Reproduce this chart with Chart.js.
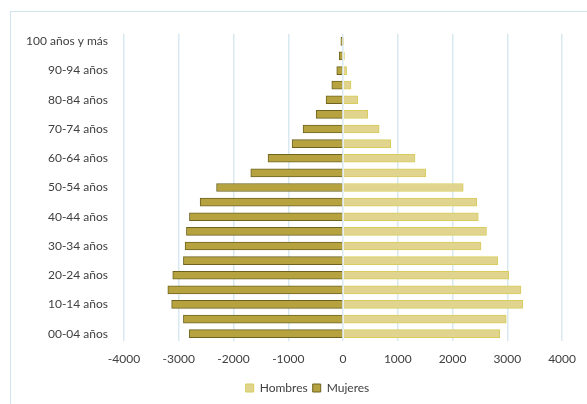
<!DOCTYPE html>
<html>
<head>
<meta charset="utf-8">
<script src="https://cdn.jsdelivr.net/npm/chart.js@4/dist/chart.umd.min.js"></script>
<style>
	body { margin: 0; background: #ffffff; }
	#marco { position: absolute; left: 10px; top: 11px; width: 700px; height: 500px; border-left: 1px solid #cfe4ec; border-top: 1px solid #cfe4ec; }
	#wrap { position: absolute; left: 0; top: 0; width: 587px; height: 404px; }
</style>
</head>
<body>
<div id="marco"></div>
<div id="wrap"><canvas id="piramide"></canvas></div>
<script>
// grupos de edad, de abajo hacia arriba
const edades = [
	"00-04 años", "05-09 años", "10-14 años", "15-19 años", "20-24 años",
	"25-29 años", "30-34 años", "35-39 años", "40-44 años", "45-49 años",
	"50-54 años", "55-59 años", "60-64 años", "65-69 años", "70-74 años",
	"75-79 años", "80-84 años", "85-89 años", "90-94 años", "95-99 años",
	"100 años y más"
];

const hombres = [
	2860, 2980, 3285, 3250, 3025, 2825, 2520, 2620, 2470, 2440,
	2195, 1510, 1315, 870, 660, 450, 270, 145, 65, 25, 12
];

// mujeres en negativo para que salgan a la izquierda
const mujeres = [
	-2810, -2915, -3130, -3200, -3110, -2915, -2885, -2860, -2805, -2610,
	-2310, -1685, -1370, -930, -730, -490, -310, -205, -115, -70, -40
];

const ejeX = [-4000, -3000, -2000, -1000, 0, 1000, 2000, 3000, 4000];

const fuente = { family: "Lato, 'Open Sans', sans-serif", size: 12 };

new Chart(document.getElementById("piramide"), {
	type: "bar",
	data: {
		labels: edades,
		datasets: [
			{
				label: "Hombres",
				data: hombres,
				backgroundColor: "#e0d48e",
				borderColor: "#d8cd5c",
				borderWidth: 1,
				barThickness: 8,
			},
			{
				label: "Mujeres",
				data: mujeres,
				backgroundColor: "#b6a340",
				borderColor: "#6e6420",
				borderWidth: 1,
				barThickness: 8,
			},
		],
	},
	options: {
		indexAxis: "y",
		responsive: true,
		maintainAspectRatio: false,
		animation: false,
		// el padding izquierdo centra la leyenda como en el original
		layout: { padding: { top: 34, right: 22, left: 50, bottom: 0 } },
		scales: {
			x: {
				stacked: true,
				min: ejeX[0],
				max: ejeX[ejeX.length - 1],
				afterBuildTicks: (scale) => {
					scale.ticks = ejeX.map((v) => ({ value: v }));
				},
				grid: { color: "#d9e9f1", lineWidth: 1.5, drawTicks: false },
				border: { display: false },
				ticks: {
					padding: 11,
					color: "#404040",
					font: fuente,
					callback: (v) => String(v),
				},
				afterFit: (scale) => {
					scale.height = 36;
				},
			},
			y: {
				stacked: true,
				reverse: true,
				grid: { display: false },
				border: { display: false },
				ticks: {
					autoSkip: false,
					padding: 8,
					color: "#404040",
					font: fuente,
					callback: (v, i) => (i % 2 === 0 ? edades[i] : ""),
				},
				afterFit: (scale) => {
					scale.width = 74;
					// que "100 años y más" no se corte en el borde del eje
					scale._computeLabelArea = () => undefined;
				},
			},
		},
		plugins: {
			legend: {
				position: "bottom",
				labels: {
					boxWidth: 8,
					boxHeight: 8,
					color: "#404040",
					font: fuente,
					padding: 5,
				},
			},
			tooltip: { enabled: false },
		},
	},
});
</script>
</body>
</html>
